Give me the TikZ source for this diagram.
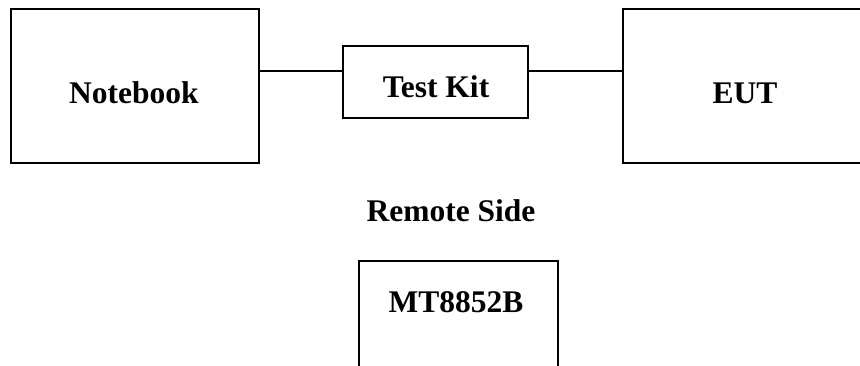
\documentclass[tikz,border=0pt]{standalone}
\usepackage{fontspec}
\setmainfont{Liberation Serif}
\usetikzlibrary{calc}
\begin{document}
\begin{tikzpicture}[x=1pt,y=-1pt,
  box/.style={draw,line width=2pt,rectangle,inner sep=0pt,anchor=north west},
  lbl/.style={anchor=base,inner sep=0pt,font=\fontsize{31.5}{36}\selectfont\bfseries},
  wire/.style={line width=2pt}]
\clip (0,0) rectangle (860,365);
\fill[white] (0,0) rectangle (860,365);
\node[box,minimum width=248pt,minimum height=154pt] (nb) at (10,8) {};
\node[box,minimum width=185pt,minimum height=72pt] (tk) at (342,45) {};
\node[box,minimum width=260pt,minimum height=154pt] (eut) at (622,8) {};
\node[box,minimum width=199pt,minimum height=140pt] (mt) at (358,260) {};
\node[lbl] (nbt) at (134,103) {Notebook};
\node[lbl] (tkt) at (436,97) {Test Kit};
\node[lbl] (eutt) at (745,103) {EUT};
\node[lbl] (rs) at (451,221) {Remote Side};
\node[lbl] (mtt) at (456,312) {MT8852B};
\coordinate (wl) at ($(tk.north west)!0.347!(tk.south west)$);
\coordinate (wr) at ($(tk.north east)!0.347!(tk.south east)$);
\draw[wire] (nb.east |- wl) -- (wl);
\draw[wire] (wr) -- (eut.west |- wr);
\end{tikzpicture}
\end{document}
